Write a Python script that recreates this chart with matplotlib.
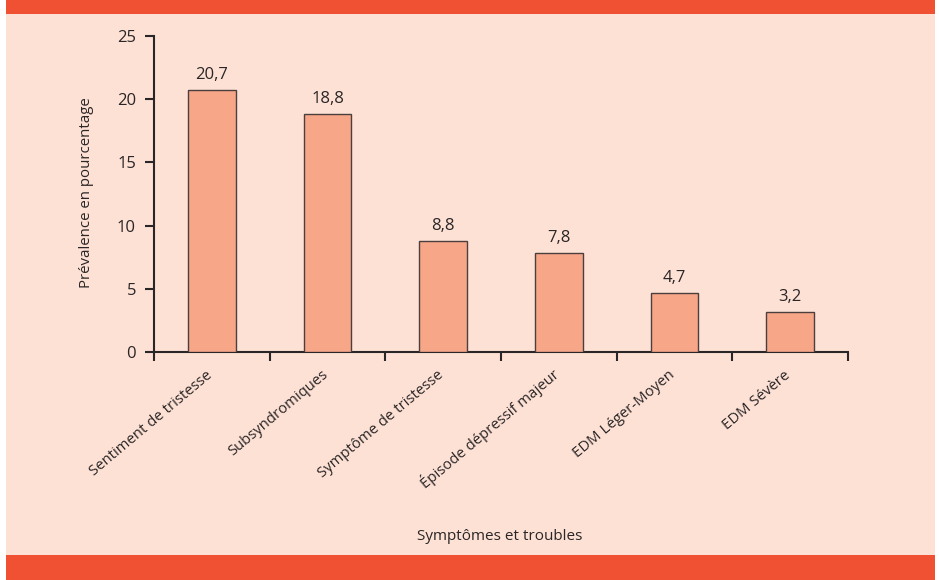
import matplotlib
matplotlib.use("Agg")
import matplotlib.pyplot as plt
from matplotlib.patches import Rectangle
from matplotlib.transforms import ScaledTranslation

categories = ["Sentiment de tristesse", "Subsyndromiques", "Symptôme de tristesse",
              "Épisode dépressif majeur", "EDM Léger-Moyen", "EDM Sévère"]
values = [20.7, 18.8, 8.8, 7.8, 4.7, 3.2]
value_labels = ["20,7", "18,8", "8,8", "7,8", "4,7", "3,2"]
yticks = [0, 5, 10, 15, 20, 25]

BG = "#fde1d5"
BAND = "#f05133"
BAR = "#f7a688"
DARK = "#2a2526"

plt.rcParams['font.family'] = ['Open Sans', 'DejaVu Sans']

W, H = 939, 580
fig = plt.figure(figsize=(W / 100, H / 100), dpi=100)
fig.patch.set_facecolor("white")
# background panel and bands
fig.add_artist(Rectangle((6 / W, 0), (935 - 6) / W, 1, transform=fig.transFigure,
                         facecolor=BG, edgecolor="none", zorder=-10))
fig.add_artist(Rectangle((6 / W, 1 - 14 / H), (935 - 6) / W, 14 / H, transform=fig.transFigure,
                         facecolor=BAND, edgecolor="none", zorder=-9))
fig.add_artist(Rectangle((6 / W, 0), (935 - 6) / W, (580 - 555) / H, transform=fig.transFigure,
                         facecolor=BAND, edgecolor="none", zorder=-9))

ax = fig.add_axes([154 / W, 1 - 352 / H, (848 - 154) / W, (352 - 36) / H])
ax.set_facecolor("none")

x = list(range(len(categories)))
bars = ax.bar(x, values, width=0.41, color=BAR, edgecolor="#4a3f3d", linewidth=1.0, zorder=3)
for xi, v, lab in zip(x, values, value_labels):
    ax.annotate(lab, (xi, v), xytext=(0, 5), textcoords="offset points",
                ha="center", va="bottom", fontsize=12, color=DARK)

ax.set_xlim(-0.5, len(categories) - 0.5)
ax.set_ylim(0, 25)
ax.set_yticks(yticks)
ax.set_yticklabels([str(t) for t in yticks], fontsize=12, color=DARK)

# x ticks at category boundaries
ax.set_xticks([i - 0.5 for i in range(len(categories) + 1)])
ax.set_xticklabels([])
# category labels, rotated
lbl_tr = ax.get_xaxis_transform() + ScaledTranslation(1 / 100, -24 / 100, fig.dpi_scale_trans)
for xi, cat in zip(x, categories):
    ax.text(xi, 0, cat, transform=lbl_tr, rotation=40, ha="right", va="baseline",
            rotation_mode="anchor", fontsize=10.7, color=DARK, clip_on=False)
ax.tick_params(axis="x", which="major", length=6.5, width=1.5, color=DARK, direction="out")
ax.tick_params(axis="y", length=6.5, width=1.5, color=DARK, direction="out", pad=6.5)

for s in ["top", "right"]:
    ax.spines[s].set_visible(False)
for s in ["left", "bottom"]:
    ax.spines[s].set_color(DARK)
    ax.spines[s].set_linewidth(1.5)

fig.text(500 / W, 1 - 537 / H, "Symptômes et troubles", ha="center", va="center",
         fontsize=11, color=DARK)
fig.text(86 / W, 1 - 193 / H, "Prévalence en pourcentage", ha="center", va="center",
         rotation=90, fontsize=10.8, color=DARK)

fig.savefig("out.png", dpi=100, facecolor=fig.get_facecolor())
